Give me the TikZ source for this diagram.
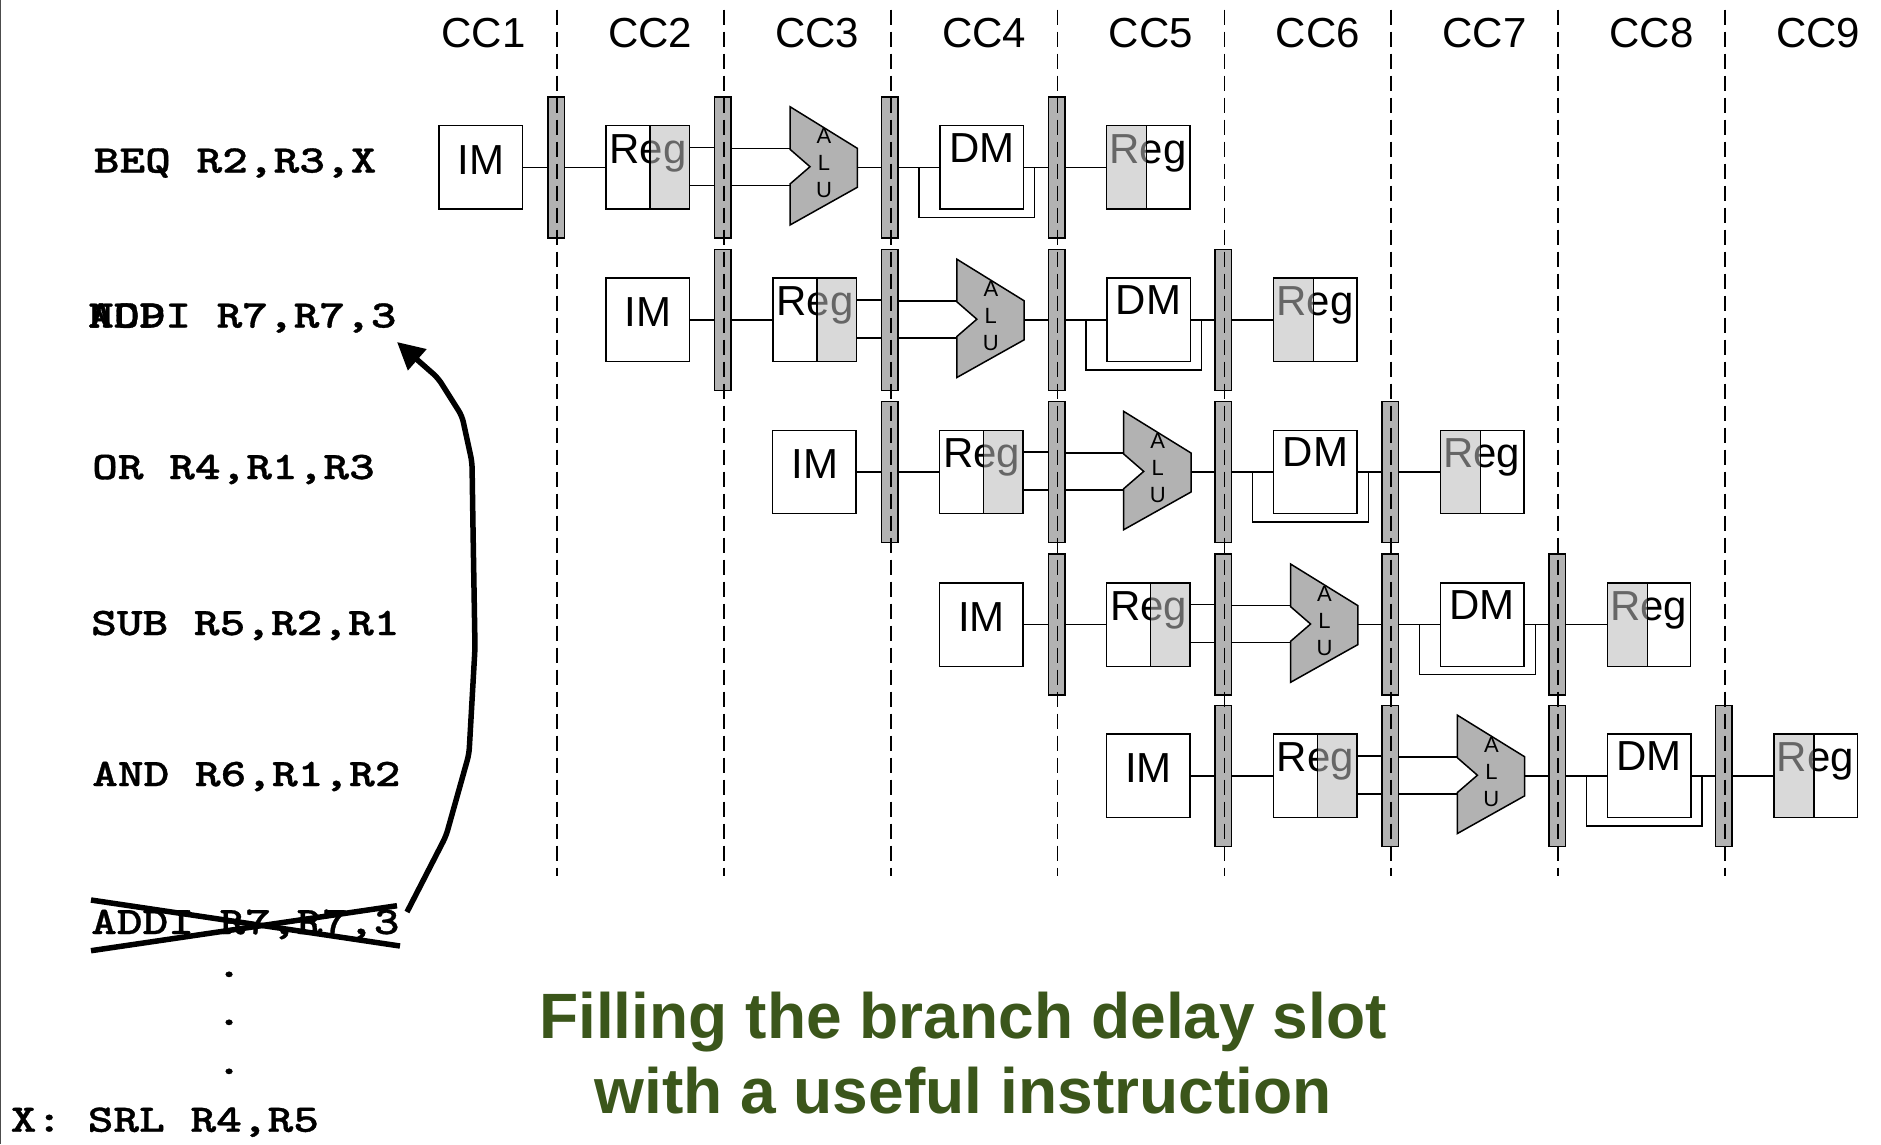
\documentclass[tikz,border=0pt]{standalone}
\usepackage{fontspec}
\setmainfont{Liberation Sans}
\newfontfamily\instrfont[FakeStretch=1.255,FakeBold=0.8]{Latin Modern Mono Light}
\usepackage{tikz}
\usetikzlibrary{arrows.meta,positioning,calc}

\definecolor{regfill}{HTML}{B2B2B2}
\definecolor{slotgreen}{HTML}{3B561B}

\begin{document}
\begin{tikzpicture}[
  x=1pt, y=-1pt,
  font=\fontsize{42}{42}\selectfont,
  wire/.style={line width=1.5pt},
  block/.style={rectangle, draw, line width=1.5pt, minimum width=83.4pt, minimum height=83.4pt,
                inner sep=0pt, outer sep=0pt, fill=white, anchor=north west},
  regfile/.style={block, draw=none},
  memtext/.style={anchor=base, inner sep=0pt},
  pipereg/.style={rectangle, draw, line width=1.5pt, fill=regfill, minimum width=16.5pt,
                  minimum height=141pt, inner sep=0pt, outer sep=0pt},
  shade/.style={fill=black!27, fill opacity=0.55, draw=none},
  alushape/.style={draw, line width=1.5pt, fill=regfill},
  alutext/.style={align=center, inner sep=0pt, font=\fontsize{22}{27}\selectfont},
  cycle/.style={anchor=base, inner sep=0pt},
  cyclesep/.style={line width=1.6pt, dash pattern=on 15.5pt off 6.5pt},
  instr/.style={anchor=base west, inner sep=0pt, font=\fontsize{39}{40}\instrfont\bfseries},
  heavy/.style={line width=5.5pt},
  title/.style={anchor=base, inner sep=0pt, text=slotgreen, font=\fontsize{64.1}{64}\selectfont\bfseries},
]
\useasboundingbox (0,0) rectangle (1881,1144);

\draw[line width=1.5pt, black!70] (0.7,0) -- (0.7,1144);

% pipeline registers first, the dashes run over them
\foreach \r/\yy/\cc in {0/167.3/0,1/319.8/1,2/472/2,3/624.6/3,4/775.8/4} {
  \pgfmathsetmacro{\xx}{166.85*\cc}
  \foreach \k in {1,2,3,4}
    \node[pipereg] (p\r\k) at ({\xx+556+166.85*(\k-1)},\yy) {};
}

% cycle columns
\foreach \c in {1,...,9}
  \node[cycle] (cc\c) at ({483.5+166.85*(\c-1)},47.5) {CC\c};
\foreach \c in {1,...,8} {
  \coordinate (top\c) at ({557+166.85*(\c-1)},9.5);
  \coordinate (bot\c) at ({557+166.85*(\c-1)},876);
  \draw[cyclesep] (top\c) -- (bot\c);
}

% one row per instruction
\foreach \r/\yy/\cc in {0/167.3/0,1/319.8/1,2/472/2,3/624.6/3,4/775.8/4} {
  \pgfmathsetmacro{\xx}{166.85*\cc}
  \begin{scope}[shift={(\xx,\yy)}]
    \node[block] (im\r) at (439,-41.7) {};
    \node[memtext] (imt\r) at (481,6.7) {IM};
    % first register file, right half shaded
    \node[regfile] (rd\r) at (606,-41.7) {};
    \node[memtext] (rdt\r) at (648,-4.3) {Reg};
    \fill[shade] (650,-41.7) rectangle (689.4,41.7);
    \draw[wire] (650,-41.7) -- (650,41.7);
    \draw[wire] (rd\r.north west) rectangle (rd\r.south east);
    % ALU
    \draw[alushape] (790,-60.6) -- (857.3,-19) -- (857.3,20) -- (790,57.7)
       -- (790,16.7) -- (810,-0.6) -- (790,-18) -- cycle;
    \node[alutext] (alu\r) at (824,-4) {A\\L\\U};
    \coordinate (aluin\r) at (790,0);
    \coordinate (aluout\r) at (857.3,0);
    % DM
    \node[block] (dm\r) at (940,-41.7) {};
    \node[memtext] (dmt\r) at (981.7,-5.3) {DM};
    % second register file, left half shaded
    \node[regfile] (wb\r) at (1106.7,-41.7) {};
    \node[memtext] (wbt\r) at (1148,-4.3) {Reg};
    \fill[shade] (1106.7,-41.7) rectangle (1146.7,41.7);
    \draw[wire] (1146.7,-41.7) -- (1146.7,41.7);
    \draw[wire] (wb\r.north west) rectangle (wb\r.south east);
    % bypass round DM
    \coordinate (dmin\r) at (919,0);
    \coordinate (dmout\r) at (1034.7,0);
    \draw[wire] (dmin\r) |- (970,50) -| (dmout\r);
  \end{scope}
  \draw[wire] (im\r.east) -- (p\r1.west);
  \draw[wire] (p\r1.east) -- (rd\r.west);
  \draw[wire] ([yshift=20pt]rd\r.east) -- ([yshift=20pt]p\r2.west);
  \draw[wire] ([yshift=-18pt]rd\r.east) -- ([yshift=-18pt]p\r2.west);
  \draw[wire] ([yshift=19pt]p\r2.east) -- ([yshift=19pt]aluin\r);
  \draw[wire] ([yshift=-18pt]p\r2.east) -- ([yshift=-18pt]aluin\r);
  \draw[wire] (aluout\r) -- (p\r3.west);
  \draw[wire] (p\r3.east) -- (dm\r.west);
  \draw[wire] (dm\r.east) -- (p\r4.west);
  \draw[wire] (p\r4.east) -- (wb\r.west);
}

% instruction list
\node[instr] (beq) at (93.6,172.5) {BEQ R2,R3,X};
\node[instr] (nop) at (88,327.5) {NOP};
\node[instr] (addi) at (88,327.5) {ADDI R7,R7,3};
\node[instr] (or) at (92,479) {OR R4,R1,R3};
\node[instr] (sub) at (91,635) {SUB R5,R2,R1};
\node[instr] (and) at (92,786) {AND R6,R1,R2};
\node[instr] (old) at (91,934) {ADDI R7,R7,3};
\node[instr] (dota) at (216,977) {.};
\node[instr] (dotb) at (216,1025) {.};
\node[instr] (dotc) at (216,1074) {.};
\node[instr] (srl) at (10.5,1131.7) {X: SRL R4,R5};

\coordinate (crossa) at (91,900);
\coordinate (crossb) at (400,946);
\coordinate (crossc) at (91,950.7);
\coordinate (crossd) at (397,905.7);
\draw[heavy] (crossa) -- (crossb);
\draw[heavy] (crossc) -- (crossd);

\coordinate (movefrom) at (407,912);
\coordinate (moveto) at (397,342);
\draw[heavy, rounded corners=6pt, -{Triangle[length=27pt,width=27pt]}]
  (movefrom) -- (446,836) -- (469,754) -- (475,648) -- (473,528) -- (472,462) -- (462,416)
  -- (438,378) -- (moveto);

\node[title] (slota) at (963,1038) {Filling the branch delay slot};
\node[title] (slotb) at (963,1113) {with a useful instruction};

\end{tikzpicture}
\end{document}
